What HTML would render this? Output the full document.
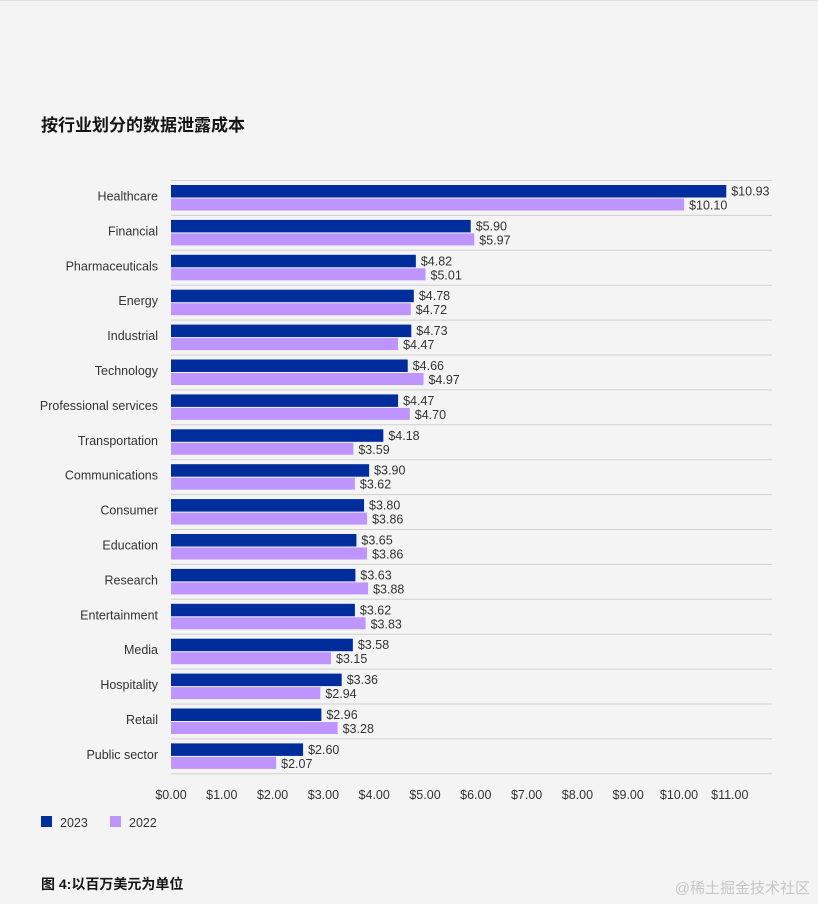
<!DOCTYPE html>
<html><head><meta charset="utf-8"><style>
body{margin:0;background:#f4f4f4;width:818px;height:904px;overflow:hidden;font-family:"Liberation Sans","Noto Sans CJK SC",sans-serif;}
svg{position:absolute;left:0;top:0}
</style></head><body>
<svg id="c" width="818" height="904">
<line x1="0" y1="0.5" x2="818" y2="0.5" stroke="#e0e0e0"/>
<text x="41" y="131" font-size="17" font-weight="bold" fill="#161616" font-family="Liberation Sans,Noto Sans CJK SC,sans-serif">按行业划分的数据泄露成本</text>
<g id="plot"></g>
<rect x="41" y="816" width="11" height="11" fill="#002d9c"/>
<text x="60" y="827" font-size="12.5" fill="#333">2023</text>
<rect x="110" y="816" width="11" height="11" fill="#be95ff"/>
<text x="129" y="827" font-size="12.5" fill="#333">2022</text>
<text x="41" y="889" font-size="14" font-weight="bold" fill="#161616" font-family="Liberation Sans,Noto Sans CJK SC,sans-serif">图 4:以百万美元为单位</text>
<text x="810" y="893" font-size="15" fill="#c6c6c6" text-anchor="end" font-family="Liberation Sans,Noto Sans CJK SC,sans-serif">@稀土掘金技术社区</text>
</svg>
<script>
const categories=["Healthcare","Financial","Pharmaceuticals","Energy","Industrial","Technology","Professional services","Transportation","Communications","Consumer","Education","Research","Entertainment","Media","Hospitality","Retail","Public sector"];
const values2023=[10.93,5.90,4.82,4.78,4.73,4.66,4.47,4.18,3.90,3.80,3.65,3.63,3.62,3.58,3.36,2.96,2.60];
const values2022=[10.10,5.97,5.01,4.72,4.47,4.97,4.70,3.59,3.62,3.86,3.86,3.88,3.83,3.15,2.94,3.28,2.07];
const ticks=[0,1,2,3,4,5,6,7,8,9,10,11];
const X0=171,SC=50.8,Y0=180.5,RH=34.9;
const xs=v=>X0+v*SC;
const g=document.getElementById('plot');
const NS='http://www.w3.org/2000/svg';
function mk(t,a){const e=document.createElementNS(NS,t);for(const k in a)e.setAttribute(k,a[k]);g.appendChild(e);return e;}
for(let i=0;i<=categories.length;i++){
 const l=mk('line',{x1:X0,x2:772,y1:Y0+i*RH,y2:Y0+i*RH,stroke:'#d0d0d0'});
 
 
}
categories.forEach((c,i)=>{
 const y=Y0+i*RH;
 const t=mk('text',{x:158,y:y+20,'font-size':12.5,fill:'#333','text-anchor':'end'});t.textContent=c;
 
 
 const b1=mk('rect',{x:X0,y:y+4.5,width:xs(values2023[i])-X0,height:12.5,fill:'#002d9c'});
 
 
 const b2=mk('rect',{x:X0,y:y+18,width:xs(values2022[i])-X0,height:12,fill:'#be95ff'});
 
 
 const l1=mk('text',{x:xs(values2023[i])+5,y:y+15,'font-size':12.5,fill:'#333'});l1.textContent='$'+values2023[i].toFixed(2);
 
 
 const l2=mk('text',{x:xs(values2022[i])+5,y:y+29,'font-size':12.5,fill:'#333'});l2.textContent='$'+values2022[i].toFixed(2);
 
 
});
ticks.forEach(v=>{
 const t=mk('text',{x:xs(v),y:799,'font-size':12.5,fill:'#333','text-anchor':'middle'});t.textContent='$'+v.toFixed(2);
 
 
});
</script>
</body></html>
